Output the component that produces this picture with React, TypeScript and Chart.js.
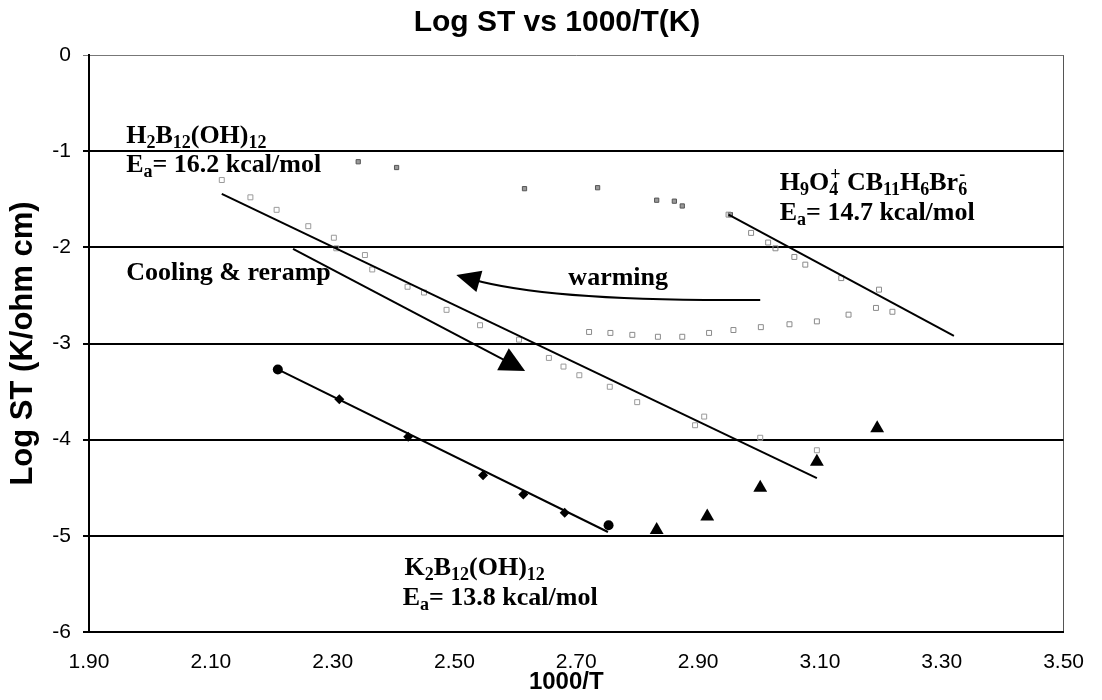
import React, { useEffect, useRef } from 'react';
import { Chart, registerables } from 'chart.js';

Chart.register(...registerables);

// ---- titles ----
const chartTitle = 'Log ST vs 1000/T(K)';
const xTitle = '1000/T';
const yTitle = 'Log ST (K/ohm cm)';

// ---- axis ticks ----
const xTickValues = [1.9, 2.1, 2.3, 2.5, 2.7, 2.9, 3.1, 3.3, 3.5];
const yTickValues = [-6, -5, -4, -3, -2, -1, 0];

// ---- K2B12(OH)12 (filled markers) ----
const kX = [2.21, 2.311, 2.424, 2.547, 2.613, 2.681, 2.753];
const kY = [-3.27, -3.58, -3.97, -4.37, -4.57, -4.76, -4.89];
const kStyles = ['circle', 'rectRot', 'rectRot', 'rectRot', 'rectRot', 'rectRot', 'circle'];

// ---- filled triangles ----
const triX = [2.832, 2.915, 3.002, 3.095, 3.194];
const triY = [-4.94, -4.8, -4.5, -4.23, -3.88];

// ---- H2B12(OH)12 cooling & reramp (open squares) ----
const coolX = [2.118, 2.165, 2.208, 2.26, 2.302, 2.306, 2.353, 2.365, 2.423, 2.45, 2.487, 2.542, 2.606, 2.655, 2.679, 2.705, 2.755, 2.8, 2.895, 2.91, 3.002, 3.095];
const coolY = [-1.3, -1.48, -1.61, -1.78, -1.9, -2.01, -2.08, -2.23, -2.41, -2.47, -2.65, -2.81, -2.96, -3.15, -3.24, -3.33, -3.45, -3.61, -3.85, -3.76, -3.98, -4.11];

// ---- H2B12(OH)12 high-temperature points ----
const highX = [2.342, 2.405, 2.615, 2.735, 2.832, 2.861, 2.874, 2.953];
const highY = [-1.11, -1.17, -1.39, -1.38, -1.51, -1.52, -1.57, -1.66];

// ---- warming (open squares) ----
const warmX = [2.721, 2.756, 2.792, 2.834, 2.874, 2.918, 2.958, 3.003, 3.05, 3.095, 3.147, 3.192, 3.219];
const warmY = [-2.88, -2.89, -2.91, -2.93, -2.93, -2.89, -2.86, -2.83, -2.8, -2.77, -2.7, -2.63, -2.67];

// ---- H9O4+ CB11H6Br6- ----
const hX = [2.95, 2.987, 3.015, 3.027, 3.058, 3.076, 3.135, 3.197];
const hY = [-1.66, -1.85, -1.95, -2.01, -2.1, -2.18, -2.32, -2.44];

// ---- fit lines (end points) ----
const fitKX = [2.21, 2.752];
const fitKY = [-3.27, -4.96];
const fitCoolX = [2.118, 3.095];
const fitCoolY = [-1.445, -4.4];
const fitHX = [2.95, 3.32];
const fitHY = [-1.66, -2.92];

// ---- arrows (data coordinates) ----
const coolArrowX = [2.235, 2.616];
const coolArrowY = [-2.017, -3.285];
const warmArrowX = [3.002, 2.66, 2.503];
const warmArrowY = [-2.547, -2.568, -2.287];

type Seg = [string, 'n' | 'sub' | 'sup' | 'supS'];

// ---- annotation texts ----
const labelTexts: Seg[][] = [
  [['H', 'n'], ['2', 'sub'], ['B', 'n'], ['12', 'sub'], ['(OH)', 'n'], ['12', 'sub']],
  [['E', 'n'], ['a', 'sub'], ['= 16.2 kcal/mol', 'n']],
  [['Cooling & reramp', 'n']],
  [['warming', 'n']],
  [['H', 'n'], ['9', 'sub'], ['O', 'n'], ['4', 'sub'], ['+', 'supS'], [' CB', 'n'], ['11', 'sub'], ['H', 'n'], ['6', 'sub'], ['Br', 'n'], ['6', 'sub'], ['-', 'supS']],
  [['E', 'n'], ['a', 'sub'], ['= 14.7 kcal/mol', 'n']],
  [['K', 'n'], ['2', 'sub'], ['B', 'n'], ['12', 'sub'], ['(OH)', 'n'], ['12', 'sub']],
  [['E', 'n'], ['a', 'sub'], ['= 13.8 kcal/mol', 'n']],
];
const labelX = [1.961, 1.961, 1.961, 2.687, 3.034, 3.034, 2.418, 2.415];
const labelY = [-0.915, -1.216, -2.34, -2.39, -1.403, -1.715, -5.405, -5.717];

const SERIF = '"Liberation Serif", "Times New Roman", serif';
const SANS = '"Liberation Sans", Arial, sans-serif';

function pts(xs: number[], ys: number[]) {
  return xs.map((x, i) => ({ x, y: ys[i] }));
}

function drawRich(ctx: CanvasRenderingContext2D, x: number, y: number, segs: Seg[], size: number) {
  let cx = x;
  let prevStart = x;
  let prevEnd = x;
  for (const [t, k] of segs) {
    const small = k !== 'n';
    const fs = small ? Math.round(size * 0.7) : size;
    ctx.font = `bold ${fs}px ${SERIF}`;
    const dy = k === 'sub' ? size * 0.2 : k === 'sup' || k === 'supS' ? -size * 0.38 : 0;
    const w = ctx.measureText(t).width;
    if (k === 'supS') {
      const sx = prevStart + 1;
      ctx.fillText(t, sx, y + dy);
      cx = Math.max(prevEnd, sx + w);
      prevStart = sx;
      prevEnd = cx;
    } else {
      ctx.fillText(t, cx, y + dy);
      prevStart = cx;
      cx += w;
      prevEnd = cx;
    }
  }
}

function drawHead(ctx: CanvasRenderingContext2D, tx: number, ty: number, ang: number, len: number, half: number) {
  const bx = tx - len * Math.cos(ang);
  const by = ty - len * Math.sin(ang);
  const px = -Math.sin(ang) * half;
  const py = Math.cos(ang) * half;
  ctx.beginPath();
  ctx.moveTo(tx, ty);
  ctx.lineTo(bx + px, by + py);
  ctx.lineTo(bx - px, by - py);
  ctx.closePath();
  ctx.fill();
}

const annotationPlugin = {
  id: 'annotations',
  afterDatasetsDraw(chart: any) {
    const ctx: CanvasRenderingContext2D = chart.ctx;
    const xs = chart.scales.x;
    const ys = chart.scales.y;
    const X = (v: number) => xs.getPixelForValue(v);
    const Y = (v: number) => ys.getPixelForValue(v);
    ctx.save();
    ctx.fillStyle = '#000';
    ctx.strokeStyle = '#000';
    ctx.lineWidth = 2;
    // cooling arrow
    const sx = X(coolArrowX[0]), sy = Y(coolArrowY[0]);
    const tx = X(coolArrowX[1]), ty = Y(coolArrowY[1]);
    const ang = Math.atan2(ty - sy, tx - sx);
    ctx.beginPath();
    ctx.moveTo(sx, sy);
    ctx.lineTo(tx - 18 * Math.cos(ang), ty - 18 * Math.sin(ang));
    ctx.stroke();
    drawHead(ctx, tx, ty, ang, 25, 12.5);
    // warming arrow
    const a0x = X(warmArrowX[0]), a0y = Y(warmArrowY[0]);
    const c1x = X(warmArrowX[1]), c1y = Y(warmArrowY[1]);
    const t2x = X(warmArrowX[2]), t2y = Y(warmArrowY[2]);
    const ang2 = Math.atan2(t2y - c1y, t2x - c1x);
    ctx.beginPath();
    ctx.moveTo(a0x, a0y);
    ctx.quadraticCurveTo(c1x, c1y, t2x - 16 * Math.cos(ang2), t2y - 16 * Math.sin(ang2));
    ctx.stroke();
    drawHead(ctx, t2x, t2y, ang2, 24, 11);
    // text labels
    ctx.textBaseline = 'alphabetic';
    ctx.textAlign = 'left';
    labelTexts.forEach((segs, i) => drawRich(ctx, X(labelX[i]), Y(labelY[i]), segs, 26));
    // chart title
    ctx.font = `bold 30px ${SANS}`;
    ctx.textAlign = 'center';
    ctx.textBaseline = 'middle';
    ctx.fillText(chartTitle, 557, 23);
    // x-axis title
    ctx.font = `bold 24px ${SANS}`;
    ctx.fillText(xTitle, (chart.chartArea.left + chart.chartArea.right) / 2 - 10, 682);
    ctx.restore();
  },
};

export default function App() {
  const ref = useRef<HTMLCanvasElement | null>(null);
  useEffect(() => {
    document.body.style.margin = '0';
    const canvas = ref.current!;
    const lineDs = (xs: number[], ys: number[]) => ({
      type: 'line' as const,
      data: pts(xs, ys),
      showLine: true,
      borderColor: '#000',
      borderWidth: 2,
      pointRadius: 0,
      fill: false,
    });
    const chart = new Chart(canvas, {
      type: 'scatter',
      data: {
        datasets: [
          lineDs(fitKX, fitKY),
          lineDs(fitCoolX, fitCoolY),
          lineDs(fitHX, fitHY),
          {
            data: pts(coolX, coolY),
            pointStyle: 'rect',
            pointRadius: 3.5,
            borderWidth: 1,
            borderColor: '#9a9a9a',
            backgroundColor: 'rgba(255,255,255,0)',
          },
          {
            data: pts(warmX, warmY),
            pointStyle: 'rect',
            pointRadius: 3.5,
            borderWidth: 1,
            borderColor: '#8a8a8a',
            backgroundColor: 'rgba(255,255,255,0)',
          },
          {
            data: pts(hX, hY),
            pointStyle: 'rect',
            pointRadius: 3.5,
            borderWidth: 1,
            borderColor: '#8a8a8a',
            backgroundColor: 'rgba(255,255,255,0)',
          },
          {
            data: pts(highX, highY),
            pointStyle: 'rect',
            pointRadius: 3,
            borderWidth: 1,
            borderColor: '#555',
            backgroundColor: '#999',
          },
          {
            data: pts(kX, kY),
            pointStyle: (c: any) => kStyles[c.dataIndex] as any,
            pointRadius: 5,
            borderWidth: 0,
            backgroundColor: '#000',
            borderColor: '#000',
          },
          {
            data: pts(triX, triY),
            pointStyle: 'triangle',
            pointRadius: 8,
            borderWidth: 0,
            backgroundColor: '#000',
            borderColor: '#000',
          },
        ] as any,
      },
      options: {
        responsive: false,
        animation: false,
        devicePixelRatio: 1,
        layout: { padding: { top: 55, right: 21, bottom: 0, left: 0 } },
        plugins: {
          legend: { display: false },
          tooltip: { enabled: false },
          title: { display: false },
        },
        scales: {
          x: {
            type: 'linear',
            min: 1.9,
            max: 3.5,
            afterBuildTicks: (s: any) => {
              s.ticks = xTickValues.map((v) => ({ value: v }));
            },
            afterFit: (s: any) => {
              s.height = 68;
            },
            ticks: {
              color: '#000',
              font: { family: SANS, size: 21 },
              padding: 18,
              maxRotation: 0,
              callback: (v: any) => Number(v).toFixed(2),
            },
            grid: {
              drawTicks: false,
              color: (c: any) => (c.tick && c.tick.value === 3.5 ? '#555' : 'rgba(0,0,0,0)'),
              lineWidth: 1,
            },
            border: { display: true, color: '#000', width: 2 },
            title: { display: false },
          },
          y: {
            type: 'linear',
            min: -6,
            max: 0,
            afterBuildTicks: (s: any) => {
              s.ticks = yTickValues.map((v) => ({ value: v }));
            },
            afterFit: (s: any) => {
              s.width = 89;
            },
            ticks: {
              color: '#000',
              font: { family: SANS, size: 21 },
              padding: 12,
              callback: (v: any) => String(v),
            },
            grid: {
              drawTicks: true,
              tickLength: 6,
              color: (c: any) => (c.tick && c.tick.value === 0 ? '#777' : '#000'),
              lineWidth: (c: any) => (c.tick && c.tick.value === 0 ? 1 : 2),
            },
            border: { display: true, color: '#000', width: 2 },
            title: {
              display: true,
              text: yTitle,
              color: '#000',
              font: { family: SANS, size: 31, weight: 'bold' },
              padding: { top: 5, bottom: 0 },
            },
          },
        },
      },
      plugins: [annotationPlugin],
    });
    return () => chart.destroy();
  }, []);
  return (
    <div style={{ width: 1102, height: 700, background: '#fff' }}>
      <canvas ref={ref} width={1102} height={700} />
    </div>
  );
}
